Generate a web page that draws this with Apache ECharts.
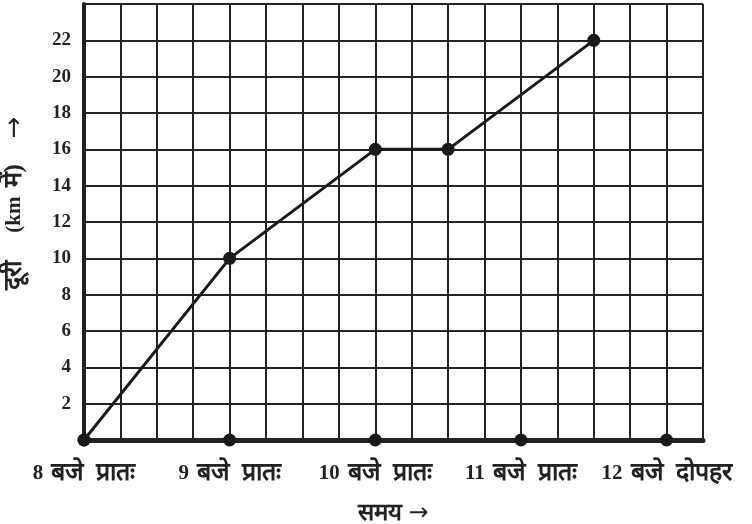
<!DOCTYPE html>
<html>
<head>
<meta charset="utf-8">
<script src="https://cdn.jsdelivr.net/npm/echarts@6/dist/echarts.min.js"></script>
<style>
	html, body { margin: 0; padding: 0; background: #fff; }
	#chart { width: 752px; height: 524px; }
</style>
</head>
<body>
<div id="chart"></div>
<script>
// समय (घंटे) और दूरी (km)
var times = [8, 9, 10, 10.5, 11.5];
var distances = [0, 10, 16, 16, 22];
// x अक्ष पर घंटे के निशान
var hours = [8, 9, 10, 11, 12];
var hourNums = ['8', '9', '10', '11', '12'];
var hourWords = ['बजे', 'बजे', 'बजे', 'बजे', 'बजे'];
var hourParts = ['प्रातः', 'प्रातः', 'प्रातः', 'प्रातः', 'दोपहर'];
var yTicks = [2, 4, 6, 8, 10, 12, 14, 16, 18, 20, 22];

var myChart = echarts.init(document.getElementById('chart'));
var font = '"Liberation Serif", "Noto Serif", serif';
var arrowFont = '"DejaVu Sans", sans-serif';

var option = {
	animation: false,
	grid: { left: 84, right: 49, top: 4, bottom: 84, outerBoundsMode: 'none', containLabel: false },
	xAxis: {
		type: 'value',
		min: 8,
		max: 12.25,
		interval: 0.25,
		name: '{w|समय}{a|→}',
		nameLocation: 'middle',
		nameGap: 62,
		nameTextStyle: {
			rich: {
				w: { color: '#222', fontSize: 24, fontWeight: 'bold', fontFamily: font, padding: [0, 6, 0, 0] },
				a: { color: '#222', fontSize: 24, fontFamily: arrowFont }
			}
		},
		axisLine: { lineStyle: { color: '#222', width: 5 } },
		axisTick: { show: false },
		axisLabel: {
			margin: 21,
			showMaxLabel: false,
			formatter: function (v) {
				var i = hours.indexOf(v);
				return i >= 0 ? '{n|' + hourNums[i] + '}{t|' + hourWords[i] + '}{p|' + hourParts[i] + '}' : '';
			},
			rich: {
				n: { color: '#222', fontSize: 21, fontWeight: 'bold', fontFamily: font, padding: [0, 8, 0, 0] },
				t: { color: '#222', fontSize: 25, fontWeight: 'bold', fontFamily: font, padding: [0, 12, 0, 0] },
				p: { color: '#222', fontSize: 25, fontWeight: 'bold', fontFamily: font }
			}
		},
		splitLine: { show: true, lineStyle: { color: '#222', width: 2 } }
	},
	yAxis: {
		type: 'value',
		min: 0,
		max: 24,
		interval: 2,
		name: '{d|दूरी}{k|(km}{m|में)}{a|→}',
		nameLocation: 'middle',
		nameGap: 56,
		nameTextStyle: {
			rich: {
				d: { color: '#222', fontSize: 25, fontWeight: 'bold', fontFamily: font, padding: [0, 28, 0, 38] },
				k: { color: '#222', fontSize: 21, fontWeight: 'bold', fontFamily: font, padding: [0, 9, 0, 0] },
				m: { color: '#222', fontSize: 25, fontWeight: 'bold', fontFamily: font, padding: [0, 26, 0, 0] },
				a: { color: '#222', fontSize: 26, fontFamily: arrowFont }
			}
		},
		axisLine: { show: true, lineStyle: { color: '#222', width: 4 } },
		axisTick: { show: false },
		axisLabel: {
			color: '#222',
			fontSize: 19,
			fontWeight: 'bold',
			fontFamily: font,
			margin: 13,
			formatter: function (v) {
				return yTicks.indexOf(v) >= 0 ? v : '';
			}
		},
		splitLine: { show: true, lineStyle: { color: '#222', width: 2 } }
	},
	series: [
		{
			type: 'line',
			data: times.map(function (t, i) { return [t, distances[i]]; }),
			symbol: 'circle',
			symbolSize: 13,
			lineStyle: { color: '#1a1a1a', width: 3 },
			itemStyle: { color: '#1a1a1a' },
			clip: false,
			z: 5
		},
		{
			type: 'scatter',
			data: hours.map(function (h) { return [h, 0]; }),
			symbolSize: 13,
			itemStyle: { color: '#1a1a1a', opacity: 1 },
			clip: false,
			z: 5
		}
	]
};

myChart.setOption(option);
window.addEventListener('resize', function () {
	myChart.resize();
});
</script>
</body>
</html>
